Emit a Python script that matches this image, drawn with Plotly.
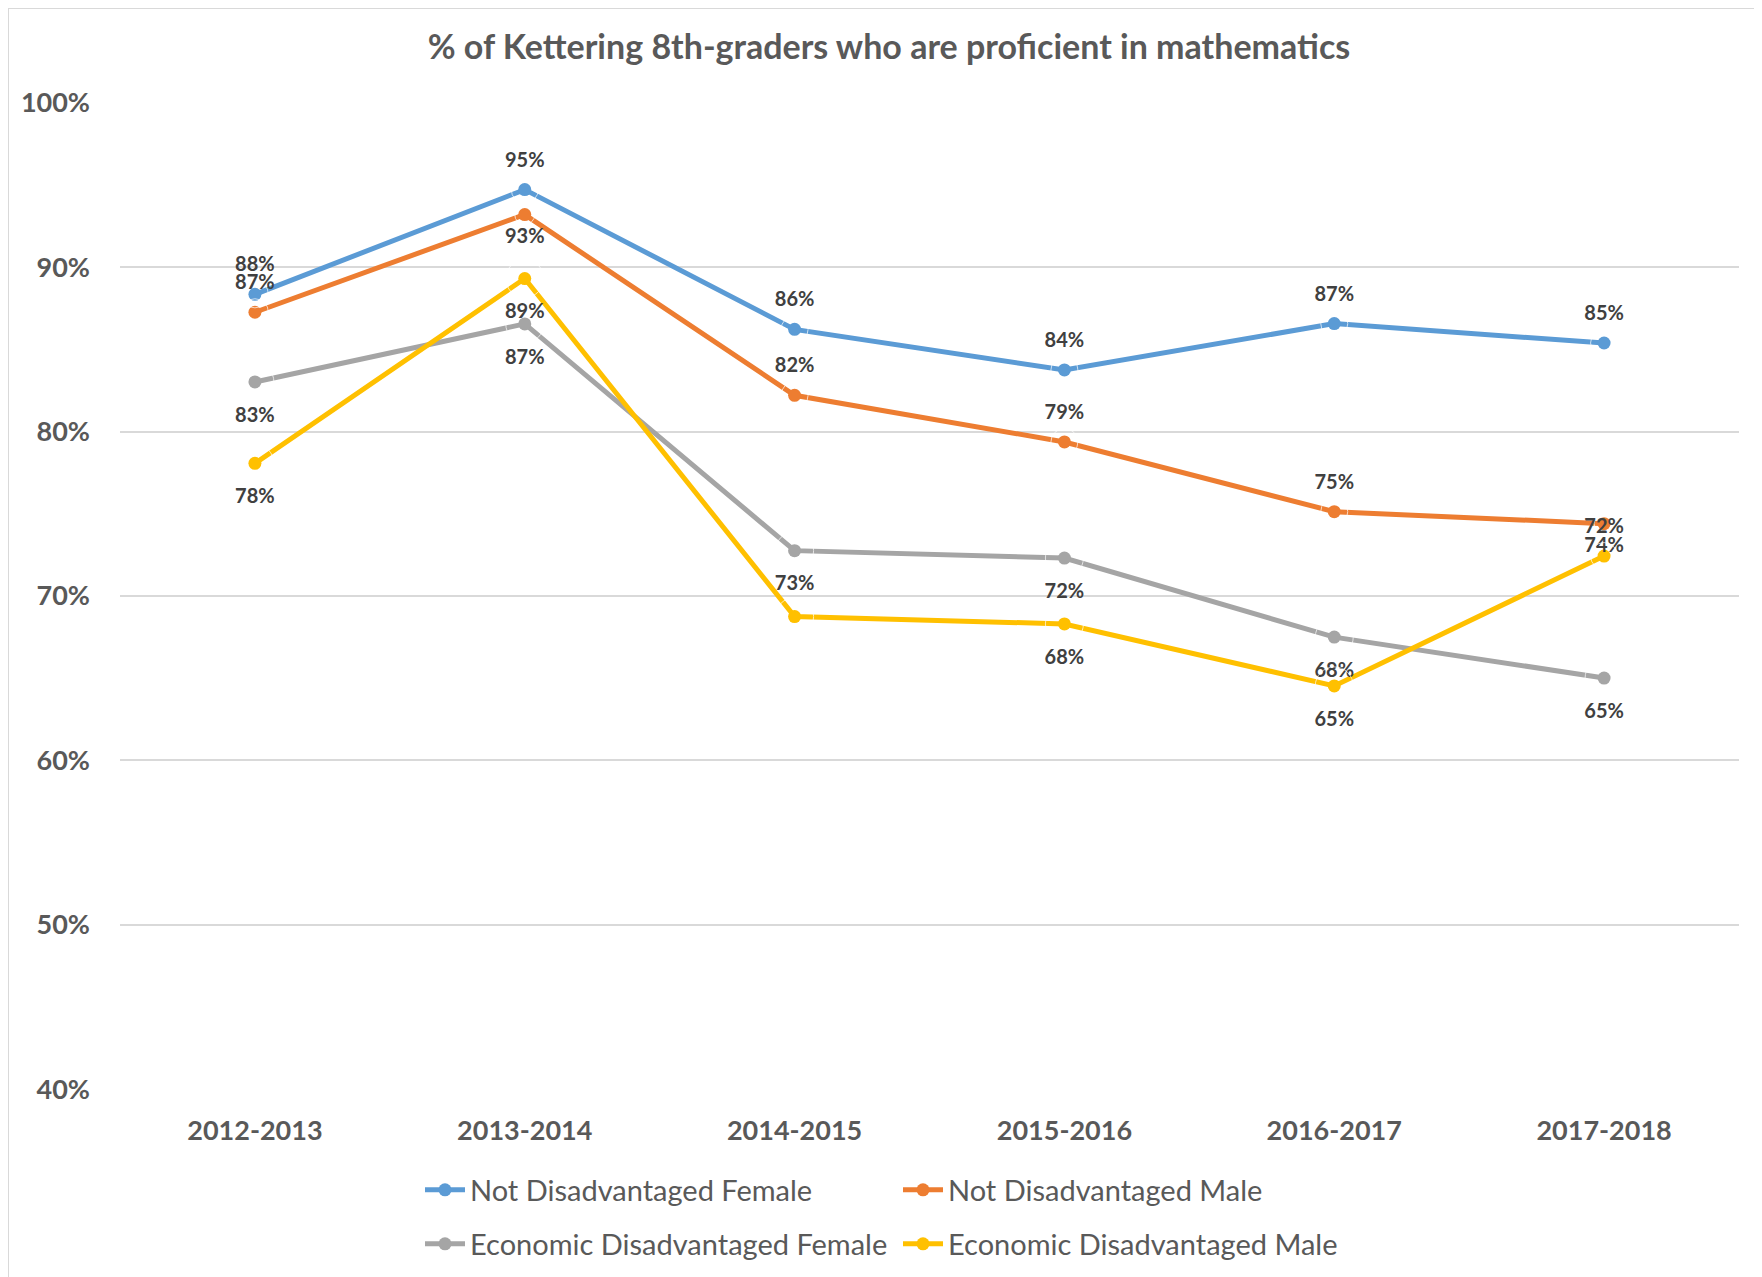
import plotly.graph_objects as go

# ---- data ----
years = ["2012-2013", "2013-2014", "2014-2015", "2015-2016", "2016-2017", "2017-2018"]

not_dis_female = [88.35, 94.72, 86.22, 83.75, 86.57, 85.39]
not_dis_male = [87.26, 93.20, 82.21, 79.37, 75.13, 74.40]
econ_dis_female = [83.02, 86.55, 72.76, 72.31, 67.50, 65.01]
econ_dis_male = [78.07, 89.31, 68.75, 68.30, 64.53, 72.43]

lbl_not_dis_female = ["88%", "95%", "86%", "84%", "87%", "85%"]
lbl_not_dis_male = ["87%", "93%", "82%", "79%", "75%", "74%"]
lbl_econ_dis_female = ["83%", "87%", "73%", "72%", "68%", "65%"]
lbl_econ_dis_male = ["78%", "89%", "", "68%", "65%", "72%"]

pos_not_dis_female = ["top center"] * 6
pos_not_dis_male = ["top center", "bottom center", "top center", "top center", "top center", "bottom center"]
pos_econ_dis_female = ["bottom center"] * 6
pos_econ_dis_male = ["bottom center", "bottom center", "bottom center", "bottom center", "bottom center", "top center"]

series_names = ["Not Disadvantaged Female", "Not Disadvantaged Male",
                "Economic Disadvantaged Female", "Economic Disadvantaged Male"]
colors = ["#5B9BD5", "#ED7D31", "#A5A5A5", "#FFC000"]

y_ticks = [40, 50, 60, 70, 80, 90, 100]
y_tick_text = ["40%", "50%", "60%", "70%", "80%", "90%", "100%"]
title_text = "% of Kettering 8th-graders who are proficient in mathematics"

FONT = "Lato"
W, H = 1762, 1277
L, R, T, B = 112, 31, 94, 195

# label gap (px) from the point, used as invisible marker size for the label layer
def label_gap(pos_list, below_size):
    return [27 if p.startswith("top") else below_size for p in pos_list]

fig = go.Figure()
series = [
    (not_dis_female, lbl_not_dis_female, pos_not_dis_female, "legend", 38),
    (not_dis_male, lbl_not_dis_male, pos_not_dis_male, "legend", 20),
    (econ_dis_female, lbl_econ_dis_female, pos_econ_dis_female, "legend2", 38),
    (econ_dis_male, lbl_econ_dis_male, pos_econ_dis_male, "legend2", 38),
]
for (vals, lbls, pos, lg, bs), name, col in zip(series, series_names, colors):
    fig.add_trace(go.Scatter(
        x=years, y=vals, name=name, mode="lines+markers",
        line=dict(color=col, width=5),
        marker=dict(color=col, size=13),
        legend=lg, cliponaxis=False,
    ))
for (vals, lbls, pos, lg, bs), name in zip(series, series_names):
    fig.add_trace(go.Scatter(
        x=years, y=vals, mode="markers+text", showlegend=False,
        marker=dict(color="rgba(0,0,0,0)", size=label_gap(pos, bs)),
        text=lbls, textposition=pos,
        textfont=dict(family=FONT, size=20, color="#404040", weight="bold"),
        hoverinfo="skip", cliponaxis=False,
    ))

legend_common = dict(
    orientation="h", xref="container", yref="container",
    xanchor="left", yanchor="middle",
    font=dict(family=FONT, size=29, color="#595959"),
    itemwidth=40, entrywidth=423, bgcolor="rgba(0,0,0,0)",
    tracegroupgap=0,
)

fig.update_layout(
    width=W, height=H,
    margin=dict(l=L, r=R, t=T, b=B, pad=0),
    paper_bgcolor="white", plot_bgcolor="white",
    title=dict(text=title_text, x=0.5, xref="container", xanchor="center",
               y=1 - 39 / H, yref="container", yanchor="middle",
               font=dict(family=FONT, size=34, color="#595959", weight="bold")),
    showlegend=True,
    legend=dict(x=412 / W, y=1 - 1182 / H, **legend_common),
    legend2=dict(x=412 / W, y=1 - 1236 / H, **legend_common),
    xaxis=dict(
        type="category", showgrid=False, zeroline=False, showline=False,
        ticks="", ticklabelstandoff=22, automargin=False,
        tickfont=dict(family=FONT, size=27, color="#595959", weight="bold"),
        range=[-0.5, 5.5],
    ),
    yaxis=dict(
        range=[39.95, 100.05], tickmode="array", tickvals=y_ticks, ticktext=y_tick_text,
        showgrid=True, gridcolor="#D9D9D9", gridwidth=2,
        zeroline=False, showline=False, ticks="", ticklabelstandoff=29,
        automargin=False,
        tickfont=dict(family=FONT, size=27, color="#595959", weight="bold"),
    ),
    shapes=[dict(type="rect", xref="paper", yref="paper",
                 x0=(0 - L) / (W - L - R), x1=(1790 - L) / (W - L - R),
                 y0=-(1300 - (H - B)) / (H - T - B), y1=1 + (T - 0) / (H - T - B),
                 line=dict(color="#D9D9D9", width=2), fillcolor="rgba(0,0,0,0)",
                 layer="below")],
)

fig.write_html("out.html")
